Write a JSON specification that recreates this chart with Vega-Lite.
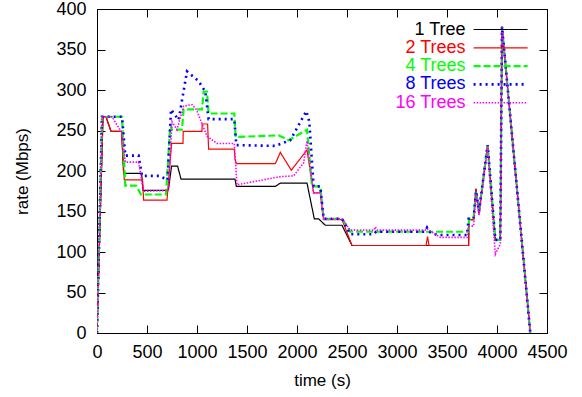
{
  "$schema": "https://vega.github.io/schema/vega-lite/v6.json",
  "width": 450,
  "height": 324,
  "autosize": "none",
  "padding": {"left": 97, "top": 9, "right": 35, "bottom": 64},
  "config": {
    "font": "Liberation Sans",
    "view": {"stroke": "black", "strokeWidth": 1},
    "axis": {
      "labelFont": "Liberation Sans",
      "titleFont": "Liberation Sans",
      "labelFontSize": 18,
      "titleFontSize": 17,
      "titleFontWeight": "normal",
      "labelColor": "black",
      "titleColor": "black",
      "domainColor": "black",
      "tickColor": "black",
      "labelOverlap": false,
      "labelFlush": false,
      "grid": false
    },
    "legend": {"labelFont": "Liberation Sans"}
  },
  "resolve": {"axis": {"x": "independent", "y": "independent"}},
  "layer": [
    {
      "data": {"values": [
        {"s":"1 Tree","t":0,"r":0},{"s":"1 Tree","t":60,"r":267},{"s":"1 Tree","t":90,"r":267},{"s":"1 Tree","t":140,"r":249},{"s":"1 Tree","t":246,"r":249},{"s":"1 Tree","t":266,"r":197},{"s":"1 Tree","t":446,"r":197},{"s":"1 Tree","t":460,"r":176},{"s":"1 Tree","t":713,"r":176},{"s":"1 Tree","t":746,"r":206},{"s":"1 Tree","t":806,"r":206},{"s":"1 Tree","t":840,"r":190},{"s":"1 Tree","t":1380,"r":190},{"s":"1 Tree","t":1393,"r":181},{"s":"1 Tree","t":1783,"r":181},{"s":"1 Tree","t":1833,"r":185},{"s":"1 Tree","t":2100,"r":185},{"s":"1 Tree","t":2173,"r":141},{"s":"1 Tree","t":2216,"r":141},{"s":"1 Tree","t":2283,"r":133},{"s":"1 Tree","t":2450,"r":133},{"s":"1 Tree","t":2550,"r":108},{"s":"1 Tree","t":3716,"r":108},{"s":"1 Tree","t":3720,"r":140},{"s":"1 Tree","t":3766,"r":140},{"s":"1 Tree","t":3790,"r":178},{"s":"1 Tree","t":3820,"r":148},{"s":"1 Tree","t":3906,"r":232},{"s":"1 Tree","t":3983,"r":115},{"s":"1 Tree","t":4033,"r":115},{"s":"1 Tree","t":4050,"r":378},{"s":"1 Tree","t":4333,"r":0},
        {"s":"2 Trees","t":0,"r":0},{"s":"2 Trees","t":60,"r":267},{"s":"2 Trees","t":90,"r":267},{"s":"2 Trees","t":140,"r":249},{"s":"2 Trees","t":246,"r":249},{"s":"2 Trees","t":273,"r":189},{"s":"2 Trees","t":456,"r":189},{"s":"2 Trees","t":466,"r":164},{"s":"2 Trees","t":700,"r":164},{"s":"2 Trees","t":746,"r":234},{"s":"2 Trees","t":860,"r":234},{"s":"2 Trees","t":862,"r":249},{"s":"2 Trees","t":1050,"r":249},{"s":"2 Trees","t":1052,"r":258},{"s":"2 Trees","t":1106,"r":258},{"s":"2 Trees","t":1116,"r":227},{"s":"2 Trees","t":1373,"r":227},{"s":"2 Trees","t":1380,"r":215},{"s":"2 Trees","t":1393,"r":209},{"s":"2 Trees","t":1783,"r":209},{"s":"2 Trees","t":1833,"r":223},{"s":"2 Trees","t":1943,"r":201},{"s":"2 Trees","t":2100,"r":226},{"s":"2 Trees","t":2166,"r":173},{"s":"2 Trees","t":2233,"r":173},{"s":"2 Trees","t":2266,"r":140},{"s":"2 Trees","t":2450,"r":140},{"s":"2 Trees","t":2550,"r":108},{"s":"2 Trees","t":3290,"r":108},{"s":"2 Trees","t":3306,"r":119},{"s":"2 Trees","t":3320,"r":108},{"s":"2 Trees","t":3716,"r":108},{"s":"2 Trees","t":3720,"r":140},{"s":"2 Trees","t":3766,"r":140},{"s":"2 Trees","t":3790,"r":178},{"s":"2 Trees","t":3820,"r":148},{"s":"2 Trees","t":3906,"r":232},{"s":"2 Trees","t":3983,"r":115},{"s":"2 Trees","t":4033,"r":115},{"s":"2 Trees","t":4050,"r":378},{"s":"2 Trees","t":4333,"r":0},
        {"s":"4 Trees","t":0,"r":0},{"s":"4 Trees","t":50,"r":267},{"s":"4 Trees","t":250,"r":267},{"s":"4 Trees","t":283,"r":182},{"s":"4 Trees","t":390,"r":182},{"s":"4 Trees","t":440,"r":171},{"s":"4 Trees","t":690,"r":171},{"s":"4 Trees","t":733,"r":257},{"s":"4 Trees","t":750,"r":251},{"s":"4 Trees","t":850,"r":251},{"s":"4 Trees","t":866,"r":276},{"s":"4 Trees","t":1050,"r":276},{"s":"4 Trees","t":1066,"r":298},{"s":"4 Trees","t":1100,"r":298},{"s":"4 Trees","t":1116,"r":271},{"s":"4 Trees","t":1373,"r":271},{"s":"4 Trees","t":1386,"r":242},{"s":"4 Trees","t":1816,"r":244},{"s":"4 Trees","t":1916,"r":238},{"s":"4 Trees","t":2100,"r":251},{"s":"4 Trees","t":2150,"r":181},{"s":"4 Trees","t":2233,"r":181},{"s":"4 Trees","t":2266,"r":141},{"s":"4 Trees","t":2450,"r":141},{"s":"4 Trees","t":2533,"r":125},{"s":"4 Trees","t":3716,"r":125},{"s":"4 Trees","t":3720,"r":141},{"s":"4 Trees","t":3766,"r":141},{"s":"4 Trees","t":3790,"r":175},{"s":"4 Trees","t":3820,"r":150},{"s":"4 Trees","t":3906,"r":232},{"s":"4 Trees","t":3983,"r":115},{"s":"4 Trees","t":4033,"r":115},{"s":"4 Trees","t":4050,"r":378},{"s":"4 Trees","t":4333,"r":0},
        {"s":"8 Trees","t":0,"r":0},{"s":"8 Trees","t":50,"r":267},{"s":"8 Trees","t":250,"r":267},{"s":"8 Trees","t":283,"r":219},{"s":"8 Trees","t":416,"r":219},{"s":"8 Trees","t":450,"r":194},{"s":"8 Trees","t":623,"r":194},{"s":"8 Trees","t":706,"r":189},{"s":"8 Trees","t":740,"r":276},{"s":"8 Trees","t":816,"r":263},{"s":"8 Trees","t":900,"r":323},{"s":"8 Trees","t":1016,"r":311},{"s":"8 Trees","t":1083,"r":298},{"s":"8 Trees","t":1116,"r":264},{"s":"8 Trees","t":1373,"r":264},{"s":"8 Trees","t":1393,"r":232},{"s":"8 Trees","t":1783,"r":231},{"s":"8 Trees","t":1933,"r":238},{"s":"8 Trees","t":2093,"r":274},{"s":"8 Trees","t":2123,"r":261},{"s":"8 Trees","t":2166,"r":181},{"s":"8 Trees","t":2233,"r":181},{"s":"8 Trees","t":2266,"r":141},{"s":"8 Trees","t":2450,"r":141},{"s":"8 Trees","t":2533,"r":122},{"s":"8 Trees","t":2770,"r":122},{"s":"8 Trees","t":2790,"r":125},{"s":"8 Trees","t":3280,"r":125},{"s":"8 Trees","t":3300,"r":130},{"s":"8 Trees","t":3320,"r":125},{"s":"8 Trees","t":3400,"r":121},{"s":"8 Trees","t":3700,"r":121},{"s":"8 Trees","t":3716,"r":141},{"s":"8 Trees","t":3766,"r":141},{"s":"8 Trees","t":3790,"r":175},{"s":"8 Trees","t":3820,"r":150},{"s":"8 Trees","t":3906,"r":232},{"s":"8 Trees","t":3983,"r":115},{"s":"8 Trees","t":4033,"r":115},{"s":"8 Trees","t":4050,"r":378},{"s":"8 Trees","t":4333,"r":0},
        {"s":"16 Trees","t":0,"r":0},{"s":"16 Trees","t":50,"r":267},{"s":"16 Trees","t":150,"r":267},{"s":"16 Trees","t":250,"r":247},{"s":"16 Trees","t":283,"r":211},{"s":"16 Trees","t":416,"r":211},{"s":"16 Trees","t":466,"r":175},{"s":"16 Trees","t":713,"r":176},{"s":"16 Trees","t":750,"r":261},{"s":"16 Trees","t":800,"r":251},{"s":"16 Trees","t":866,"r":280},{"s":"16 Trees","t":950,"r":282},{"s":"16 Trees","t":993,"r":276},{"s":"16 Trees","t":1100,"r":243},{"s":"16 Trees","t":1200,"r":234},{"s":"16 Trees","t":1373,"r":234},{"s":"16 Trees","t":1400,"r":183},{"s":"16 Trees","t":1833,"r":193},{"s":"16 Trees","t":1966,"r":194},{"s":"16 Trees","t":2066,"r":210},{"s":"16 Trees","t":2100,"r":237},{"s":"16 Trees","t":2166,"r":173},{"s":"16 Trees","t":2233,"r":173},{"s":"16 Trees","t":2266,"r":141},{"s":"16 Trees","t":2450,"r":141},{"s":"16 Trees","t":2533,"r":127},{"s":"16 Trees","t":2770,"r":127},{"s":"16 Trees","t":2783,"r":131},{"s":"16 Trees","t":2800,"r":127},{"s":"16 Trees","t":3280,"r":127},{"s":"16 Trees","t":3300,"r":129},{"s":"16 Trees","t":3320,"r":127},{"s":"16 Trees","t":3433,"r":118},{"s":"16 Trees","t":3700,"r":118},{"s":"16 Trees","t":3716,"r":132},{"s":"16 Trees","t":3766,"r":132},{"s":"16 Trees","t":3790,"r":172},{"s":"16 Trees","t":3820,"r":145},{"s":"16 Trees","t":3906,"r":230},{"s":"16 Trees","t":3983,"r":97},{"s":"16 Trees","t":4033,"r":110},{"s":"16 Trees","t":4050,"r":378},{"s":"16 Trees","t":4333,"r":0}
      ]},
      "mark": {"type": "line", "strokeCap": "butt", "clip": true},
      "encoding": {
        "x": {"field": "t", "type": "quantitative", "scale": {"domain": [0, 4500], "nice": false, "zero": false},
              "axis": {"orient": "bottom", "values": [0,500,1000,1500,2000,2500,3000,3500,4000,4500], "tickSize": -8, "labelPadding": 18, "title": "time (s)", "titlePadding": 11, "format": "d"}},
        "y": {"field": "r", "type": "quantitative", "scale": {"domain": [0, 400], "nice": false},
              "axis": {"orient": "left", "values": [0,50,100,150,200,250,300,350,400], "tickSize": -8, "labelPadding": 19, "title": "rate (Mbps)", "titlePadding": 24, "format": "d"}},
        "color": {"field": "s", "type": "nominal",
                  "scale": {"domain": ["1 Tree","2 Trees","4 Trees","8 Trees","16 Trees"], "range": ["#000000","#ff0000","#00ff00","#0000ff","#ff00ff"]},
                  "legend": {"orient": "none", "legendX": 394.6, "legendY": 11.5, "title": null, "symbolType": "M-5,0H5", "symbolSize": 116.64, "rowPadding": 0.3, "labelAlign": "right", "labelOffset": -44.1, "labelFontSize": 18, "padding": 0, "labelBaseline": "middle", "symbolFillColor": "transparent",
                             "encode": {"labels": {"update": {"fill": {"scale": "color", "field": "value"}}}}}},
        "strokeDash": {"field": "s", "type": "nominal",
                  "scale": {"domain": ["1 Tree","2 Trees","4 Trees","8 Trees","16 Trees"], "range": [[1,0],[1,0],[7,3],[2,4],[1.5,1.5]]},
                  "legend": {"orient": "none", "legendX": 394.6, "legendY": 11.5, "title": null, "symbolType": "M-5,0H5", "symbolSize": 116.64, "rowPadding": 0.3, "labelAlign": "right", "labelOffset": -44.1, "labelFontSize": 18, "padding": 0, "labelBaseline": "middle", "symbolFillColor": "transparent"}},
        "strokeWidth": {"field": "s", "type": "nominal",
                  "scale": {"type": "ordinal", "domain": ["1 Tree","2 Trees","4 Trees","8 Trees","16 Trees"], "range": [1.2,1.2,2.2,2.6,1.6]},
                  "legend": {"orient": "none", "legendX": 394.6, "legendY": 11.5, "title": null, "symbolType": "M-5,0H5", "symbolSize": 116.64, "rowPadding": 0.3, "labelAlign": "right", "labelOffset": -44.1, "labelFontSize": 18, "padding": 0, "labelBaseline": "middle", "symbolFillColor": "transparent"}}
      }
    },
    {
      "data": {"values": [{"t": 0, "r": 0}]},
      "mark": {"type": "point", "opacity": 0},
      "encoding": {
        "x": {"field": "t", "type": "quantitative", "scale": {"domain": [0, 4500], "nice": false, "zero": false},
              "axis": {"orient": "top", "values": [0,500,1000,1500,2000,2500,3000,3500,4000,4500], "tickSize": -8, "labels": false, "title": null}},
        "y": {"field": "r", "type": "quantitative", "scale": {"domain": [0, 400], "nice": false},
              "axis": {"orient": "right", "values": [0,50,100,150,200,250,300,350,400], "tickSize": -8, "labels": false, "title": null}}
      }
    }
  ]
}
